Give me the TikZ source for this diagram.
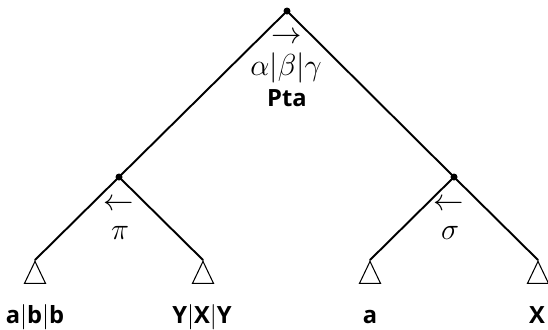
\documentclass[tikz,border=0pt]{standalone}
\usepackage{amsmath}
\usepackage{fontspec}
\setsansfont{Open Sans}
\usepackage{tikz}
\usetikzlibrary{positioning}
\usetikzlibrary{shapes.geometric}

\begin{document}
\begin{tikzpicture}[
    x=0.02cm, y=-0.02cm,
    font=\LARGE,
    inner/.style={circle,fill=black,inner sep=0pt,minimum size=0.14cm},
    leaf/.style={isosceles triangle,shape border rotate=90,draw,semithick,inner sep=0pt,
        minimum height=0.44cm,minimum width=0.42cm,isosceles triangle stretches,anchor=apex},
    branch/.style={line width=1.1pt,line cap=round},
    word/.style={font=\fontsize{13.5}{15}\selectfont\sffamily\bfseries,anchor=base}
]
\useasboundingbox (0,0) rectangle (548,329);

\node[inner] (root) at (287,11) {};
\node[inner] (l) at (119,177) {};
\node[inner] (r) at (454,177) {};

\node[leaf] (ll) at (35,260) {};
\node[leaf] (lr) at (203,260) {};
\node[leaf] (rl) at (370,260) {};
\node[leaf] (rr) at (538,260) {};

\node (rootarr) at (287,38) {$\rightarrow$};
\node (rootlab) at (286,68) {$\alpha|\beta|\gamma$};
\node[word] (pta) at (287,106) {Pta};
\node (larr) at (119,205) {$\leftarrow$};
\node (llab) at (120,233) {$\pi$};
\node (rarr) at (449,205) {$\leftarrow$};
\node (rlab) at (450,233) {$\sigma$};

\node[word] (w1) at (35,323) {a$|$b$|$b};
\node[word] (w2) at (202,323) {Y$|$X$|$Y};
\node[word] (w3) at (370,323) {a};
\node[word] (w4) at (537,323) {X};

\draw[branch] (root.center) -- (l.center);
\draw[branch] (root.center) -- (r.center);
\draw[branch] (l.center) -- (ll.apex);
\draw[branch] (l.center) -- (lr.apex);
\draw[branch] (r.center) -- (rl.apex);
\draw[branch] (r.center) -- (rr.apex);
\end{tikzpicture}
\end{document}
